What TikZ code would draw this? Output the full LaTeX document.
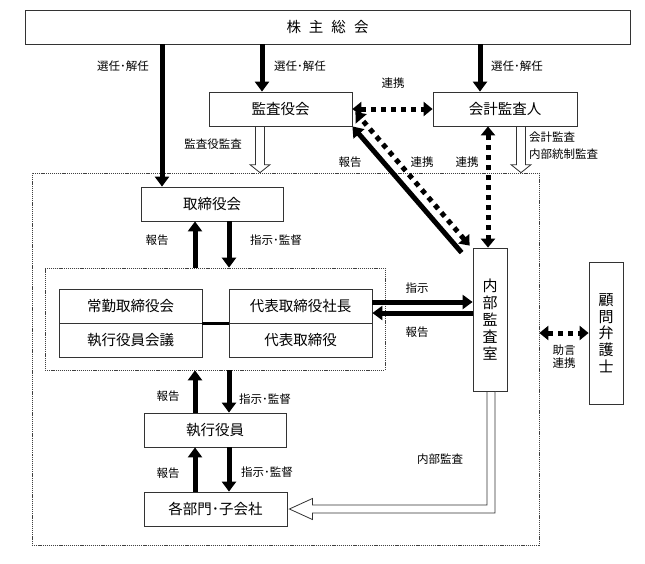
\documentclass[tikz,border=0pt]{standalone}
\usepackage{fontspec}
\setmainfont{Noto Sans CJK JP}
\usetikzlibrary{arrows.meta,calc}
\newcommand{\hollowdn}[2]{%
  \filldraw[hollow] ($(#1)+(-4.5,0)$) -- ($(#2)+(-4.5,-8)$) -- ($(#2)+(-10,-8)$) -- (#2)
    -- ($(#2)+(10,-8)$) -- ($(#2)+(4.5,-8)$) -- ($(#1)+(4.5,0)$) -- cycle;}
\begin{document}
\begin{tikzpicture}[x=1pt,y=-1pt,
 box/.style={draw=black!80, line width=0.8pt, fill=white, inner sep=0pt, font=\fontsize{14.5pt}{17pt}\selectfont},
 dbox/.style={draw=black!75, line width=0.7pt, dash pattern=on 1.2pt off 0.9pt, inner sep=0pt},
 lbl/.style={inner sep=0pt, font=\fontsize{11.5pt}{13pt}\selectfont, align=center},
 thk/.style={line width=5pt, -{Triangle[length=10pt,width=14pt]}},
 dots/.style={line width=5pt, dash pattern=on 5pt off 5pt, {Triangle[length=9pt,width=14pt]}-{Triangle[length=9pt,width=14pt]}},
 hollow/.style={draw=black!80, line width=0.8pt, fill=white},
]
\useasboundingbox (0,0) rectangle (645,563);

% dashed containers
\node[dbox, minimum width=507pt, minimum height=372pt] (outer) at (285.5,359) {};
\node[dbox, minimum width=340pt, minimum height=102pt] (inner) at (215,319) {};

% boxes
\node[box, minimum width=605pt, minimum height=34pt] (kabu) at (327.5,27) {株\hspace{8pt}主\hspace{8pt}総\hspace{8pt}会};
\node[box, minimum width=143pt, minimum height=34pt] (kansa) at (280.5,109) {監査役会};
\node[box, minimum width=144pt, minimum height=34pt] (kaikei) at (505,109) {会計監査人};
\node[box, minimum width=142pt, minimum height=34pt] (tori) at (212,204) {取締役会};
\node[box, minimum width=143pt, minimum height=34pt] (jokin) at (130.5,306) {常勤取締役会};
\node[box, minimum width=143pt, minimum height=34pt] (shikkok) at (130.5,340) {執行役員会議};
\node[box, minimum width=143pt, minimum height=34pt] (dshacho) at (300.5,306) {代表取締役社長};
\node[box, minimum width=143pt, minimum height=34pt] (daihyo) at (300.5,340) {代表取締役};
\node[box, minimum width=34pt, minimum height=143pt, align=center, font=\fontsize{15pt}{17pt}\selectfont] (naibu) at (490,319.5) {内\\部\\監\\査\\室};
\node[box, minimum width=34pt, minimum height=142pt, align=center, font=\fontsize{15pt}{16.75pt}\selectfont] (komon) at (606,333) {顧\\問\\弁\\護\\士};
\node[box, minimum width=142pt, minimum height=34pt] (shikko) at (215,430) {執行役員};
\node[box, minimum width=143pt, minimum height=34pt] (kakubu) at (215.5,509) {各部門･子会社};

% helper coordinates
\coordinate (xa) at (162,0);
\coordinate (xb) at (262,0);
\coordinate (xc) at (480,0);
\coordinate (hk1) at (260,0);
\coordinate (hk2) at (521,0);
\coordinate (vd) at (488,0);
\coordinate (up) at (195,0);
\coordinate (dn) at (229,0);
\coordinate (ya) at (0,302);
\coordinate (yb) at (0,313);

% election arrows
\draw[thk] (kabu.south -| xa) -- (tori.north -| xa);
\draw[thk] (kabu.south -| xb) -- (kansa.north -| xb);
\draw[thk] (kabu.south -| xc) -- (kaikei.north -| xc);

% hollow audit arrows
\hollowdn{kansa.south -| hk1}{outer.north -| hk1}
\hollowdn{kaikei.south -| hk2}{outer.north -| hk2}

% cooperation dotted arrows
\draw[dots] (kansa.east) -- (kaikei.west);
\draw[dots] ($(naibu.north west)+(-3,-2)$) -- ($(kansa.east)+(3,3)$);
\draw[thk] ($(naibu.north west)+(-11,5)$) -- (kansa.south east);
\draw[dots] (kaikei.south -| vd) -- (naibu.north -| vd);
\draw[dots] (outer.east |- komon.west) -- (komon.west);

% board <-> executive group
\draw[thk] (inner.north -| up) -- (tori.south -| up);
\draw[thk] (tori.south -| dn) -- (inner.north -| dn);
\draw[line width=3pt] (jokin.south east) -- (dshacho.south west);
\draw[thk] (dshacho.east |- ya) -- (naibu.west |- ya);
\draw[thk] (naibu.west |- yb) -- (dshacho.east |- yb);
\draw[thk] (shikko.north -| up) -- (inner.south -| up);
\draw[thk] (inner.south -| dn) -- (shikko.north -| dn);
\draw[thk] (kakubu.north -| up) -- (shikko.south -| up);
\draw[thk] (shikko.south -| dn) -- (kakubu.north -| dn);

% internal audit hollow L arrow
\filldraw[hollow] ($(naibu.south)+(-3,0)$) -- ($(naibu.south |- kakubu.east)+(-3,-4)$)
  -- ($(kakubu.east)+(25,-4)$) -- ($(kakubu.east)+(25,-10.5)$) -- ($(kakubu.east)+(2,0)$)
  -- ($(kakubu.east)+(25,10.5)$) -- ($(kakubu.east)+(25,4)$)
  -- ($(naibu.south |- kakubu.east)+(5,4)$) -- ($(naibu.south)+(5,0)$) -- cycle;

% labels
\node[lbl] (l1) at (123,66) {選任･解任};
\node[lbl] (l2) at (300,66) {選任･解任};
\node[lbl] (l3) at (517,66) {選任･解任};
\node[lbl] (l4) at (393,83) {連携};
\node[lbl] (l5) at (213,144) {監査役監査};
\node[lbl] (l6) at (350,162) {報告};
\node[lbl] (l7) at (422,162) {連携};
\node[lbl] (l8) at (467,162) {連携};
\node[lbl, anchor=west, align=left, font=\fontsize{11.5pt}{17pt}\selectfont] (l9) at (529,145.5) {会計監査\\内部統制監査};
\node[lbl] (l10) at (157,240) {報告};
\node[lbl] (l11) at (276,240) {指示･監督};
\node[lbl] (l12) at (417,288) {指示};
\node[lbl] (l13) at (417,332) {報告};
\node[lbl] (l14) at (564,356.5) {助言\\連携};
\node[lbl] (l15) at (168,396) {報告};
\node[lbl] (l16) at (265,399) {指示･監督};
\node[lbl] (l17) at (168,473) {報告};
\node[lbl] (l18) at (267,472) {指示･監督};
\node[lbl] (l19) at (440,459) {内部監査};
\end{tikzpicture}
\end{document}
